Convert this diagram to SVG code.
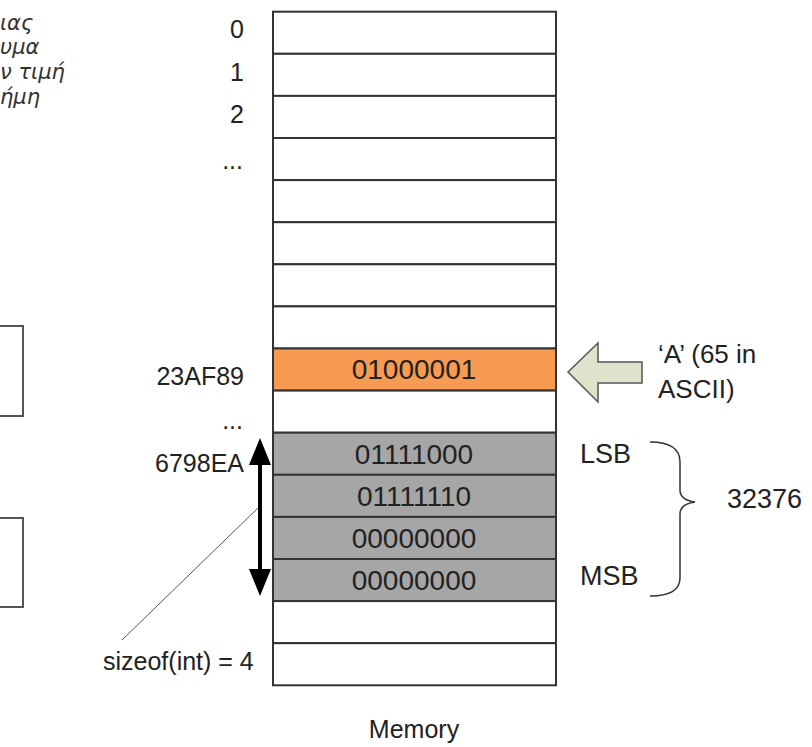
<svg xmlns="http://www.w3.org/2000/svg" width="812" height="747" viewBox="0 0 812 747">
<style>
  .t{font-family:"Liberation Sans",Arial,sans-serif;fill:#222}
  .addr{font-size:25px;text-anchor:end}
  .bin{font-size:28px;text-anchor:middle}
  .gr{font-family:"DejaVu Sans","Liberation Sans",sans-serif;font-style:italic;font-size:21px;fill:#333}
  .cell{stroke:#333;stroke-width:2}
  .w{fill:#fff}
  .o{fill:#f79a52}
  .g{fill:#a6a6a6}
</style>
<rect width="812" height="747" fill="#fff"/>
<g id="greek-text">
  <text class="gr" x="0" y="30">ιας</text>
  <text class="gr" x="0" y="54">υμα</text>
  <text class="gr" x="0" y="79">ν τιμή</text>
  <text class="gr" x="0" y="104">ήμη</text>
</g>
<g id="left-box-1"><rect x="-10" y="326" width="33" height="90" fill="#fff" stroke="#555" stroke-width="2"/></g>
<g id="left-box-2"><rect x="-10" y="518" width="33" height="89" fill="#fff" stroke="#555" stroke-width="2"/></g>
<g id="memory">
  <rect class="cell w" x="273" y="11.7" width="283" height="42.1"/>
  <rect class="cell w" x="273" y="53.8" width="283" height="42.1"/>
  <rect class="cell w" x="273" y="95.9" width="283" height="42.1"/>
  <rect class="cell w" x="273" y="138" width="283" height="42.1"/>
  <rect class="cell w" x="273" y="180.1" width="283" height="42.1"/>
  <rect class="cell w" x="273" y="222.2" width="283" height="42.1"/>
  <rect class="cell w" x="273" y="264.3" width="283" height="42.1"/>
  <rect class="cell w" x="273" y="306.4" width="283" height="42.1"/>
  <rect class="cell o" x="273" y="348.5" width="283" height="42.1"/>
  <rect class="cell w" x="273" y="390.6" width="283" height="42.1"/>
  <rect class="cell g" x="273" y="432.7" width="283" height="42.1"/>
  <rect class="cell g" x="273" y="474.8" width="283" height="42.1"/>
  <rect class="cell g" x="273" y="516.9" width="283" height="42.1"/>
  <rect class="cell g" x="273" y="559" width="283" height="42.1"/>
  <rect class="cell w" x="273" y="601.1" width="283" height="42.1"/>
  <rect class="cell w" x="273" y="643.2" width="283" height="42.1"/>
  <text class="t bin" x="414" y="379">01000001</text>
  <text class="t bin" x="414" y="464">01111000</text>
  <text class="t bin" x="414" y="506">01111110</text>
  <text class="t bin" x="414" y="548">00000000</text>
  <text class="t bin" x="414" y="590">00000000</text>
</g>
<g id="addresses">
  <text class="t addr" x="244" y="38">0</text>
  <text class="t addr" x="244" y="81">1</text>
  <text class="t addr" x="244" y="123">2</text>
  <text class="t addr" x="243" y="169">...</text>
  <text class="t addr" x="244" y="385">23AF89</text>
  <text class="t addr" x="243" y="429">...</text>
  <text class="t addr" x="244" y="472">6798EA</text>
</g>
<g id="char-arrow">
  <polygon points="568,372 598,343 598,362 642,362 642,383 598,383 598,402" fill="#dfe3cc" stroke="#555" stroke-width="1.5"/>
  <text class="t" x="658" y="363" font-size="26">‘A’ (65 in</text>
  <text class="t" x="658" y="398" font-size="26">ASCII)</text>
</g>
<g id="int-value">
  <text class="t" x="580" y="463" font-size="27">LSB</text>
  <text class="t" x="580" y="585" font-size="27">MSB</text>
  <path d="M650,442 Q680,442 680,462 L680,490 Q680,500 695,502 Q680,504 680,514 L680,578 Q680,596 650,596" fill="none" stroke="#333" stroke-width="1.5"/>
  <text class="t" x="727" y="508" font-size="27">32376</text>
</g>
<g id="connectors">
  <line x1="260" y1="460" x2="260" y2="574" stroke="#000" stroke-width="4"/>
  <polygon points="260,438 249,465 271,465" fill="#000"/>
  <polygon points="260,596 249,569 271,569" fill="#000"/>
  <line x1="258" y1="508" x2="122" y2="640" stroke="#555" stroke-width="1"/>
</g>
<g id="sizeof-label">
  <text class="t" x="103" y="670" font-size="25">sizeof(int) = 4</text>
</g>
<g id="memory-label">
  <text class="t" x="414" y="738" font-size="25" text-anchor="middle">Memory</text>
</g>
</svg>
